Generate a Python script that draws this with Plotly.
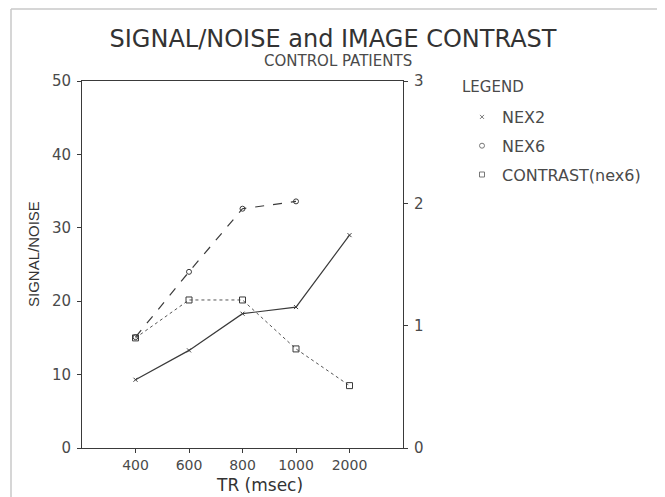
import plotly.graph_objects as go

tr_labels = ["400", "600", "800", "1000", "2000"]
nex2 = [9.3, 13.3, 18.3, 19.2, 29.0]
nex6 = [15.1, 24.0, 32.6, 33.6]
contrast = [0.9, 1.21, 1.21, 0.81, 0.51]
left_ticks = [0, 10, 20, 30, 40, 50]
right_ticks = [0, 1, 2, 3]

pos = list(range(len(tr_labels)))
ink = "#3a3a3a"
txt = "#4a4a4a"
font = "DejaVu Sans"

# page body has an 8px margin; work in reference pixels and shift
O = 8
W, H = 665 - O, 497 - O
L, R, T, B = 82 - O, 403 - O, 81 - O, 448 - O
pw, ph = R - L, B - T
def px(x):
    return (x - O - L) / pw
def py(y):
    return (B - (y - O)) / ph

fig = go.Figure()
fig.add_trace(go.Scatter(x=pos, y=nex2, mode="lines+markers", showlegend=False,
                         line=dict(color=ink, width=1.2),
                         marker=dict(symbol="x-thin", size=4, line=dict(color=ink, width=1))))
fig.add_trace(go.Scatter(x=pos[:len(nex6)], y=nex6, mode="lines+markers", showlegend=False,
                         line=dict(color=ink, width=1.2, dash="dash"),
                         marker=dict(symbol="circle-open", size=5, color=ink)))
fig.add_trace(go.Scatter(x=pos, y=contrast, mode="lines+markers", showlegend=False, yaxis="y2",
                         line=dict(color="#555", width=1, dash="dot"),
                         marker=dict(symbol="square-open", size=6, color=ink)))
for name, sym, sz in [("NEX2", "x-thin", 4), ("NEX6", "circle-open", 5), ("CONTRAST(nex6)", "square-open", 5)]:
    fig.add_trace(go.Scatter(x=[None], y=[None], mode="markers", name=name, legendgroup=name,
                             marker=dict(symbol=sym, size=sz, color="#777", line=dict(color="#777", width=1))))

frame = "#c8c8c8"
shapes = [
    dict(type="line", xref="paper", yref="paper", x0=px(11), x1=px(11), y0=py(497), y1=py(9),
         line=dict(color=frame, width=1.5)),
    dict(type="line", xref="paper", yref="paper", x0=px(11), x1=px(660), y0=py(9), y1=py(9),
         line=dict(color=frame, width=1.5)),
    dict(type="line", xref="paper", yref="paper", x0=px(660), x1=px(660), y0=py(497), y1=py(9),
         line=dict(color=frame, width=1.5)),
]

fig.update_layout(
    width=W, height=H,
    margin=dict(l=L, r=W - R, t=T, b=H - B),
    paper_bgcolor="white", plot_bgcolor="white",
    font=dict(family=font, color=txt),
    shapes=shapes,
    title=dict(text="SIGNAL/NOISE and IMAGE CONTRAST", x=(333 - O) / W, xanchor="center", xref="container",
               yref="container", y=1 - (39 - O) / H, yanchor="middle", font=dict(size=24, color="#333")),
    xaxis=dict(range=[-1, 5], tickvals=pos, ticktext=tr_labels, showgrid=False, zeroline=False,
               showline=True, linecolor=ink, linewidth=1, mirror=True, automargin=False,
               ticks="outside", ticklen=4, tickcolor=ink,
               tickfont=dict(size=14, color=txt)),
    yaxis=dict(range=[0, 50], tickvals=left_ticks, showgrid=False, zeroline=False,
               showline=True, linecolor=ink, linewidth=1, automargin=False,
               ticks="outside", ticklen=4, tickcolor=ink, ticklabelstandoff=3,
               tickfont=dict(size=15, color=txt)),
    yaxis2=dict(range=[0, 3], tickvals=right_ticks, overlaying="y", side="right",
                showgrid=False, zeroline=False, showline=True, linecolor=ink, linewidth=1,
                automargin=False, ticks="outside", ticklen=4, tickcolor=ink, ticklabelstandoff=3,
                tickfont=dict(size=15, color=txt)),
    legend=dict(x=px(462), y=py(100), xanchor="left", yanchor="top",
                font=dict(size=16, color=txt), tracegroupgap=5,
                bgcolor="rgba(0,0,0,0)"),
    annotations=[
        dict(text="LEGEND", xref="paper", yref="paper", x=px(460), y=py(87), xanchor="left",
             yanchor="middle", showarrow=False, font=dict(size=15, color=txt)),
        dict(text="CONTROL PATIENTS", xref="paper", yref="paper", x=px(338), y=py(61), xanchor="center",
             yanchor="middle", showarrow=False, font=dict(size=15, color=txt)),
        dict(text="TR (msec)", xref="paper", yref="paper", x=px(260), y=py(485), xanchor="center",
             yanchor="middle", showarrow=False, font=dict(size=17, color="#333")),
        dict(text="SIGNAL/NOISE", xref="paper", yref="paper", x=px(33), y=py(254),
             xanchor="center", yanchor="middle", textangle=-90, showarrow=False,
             font=dict(size=15, color="#333", family="Liberation Sans Narrow, Liberation Sans, sans-serif")),
    ],
)
fig.write_html("out.html")
